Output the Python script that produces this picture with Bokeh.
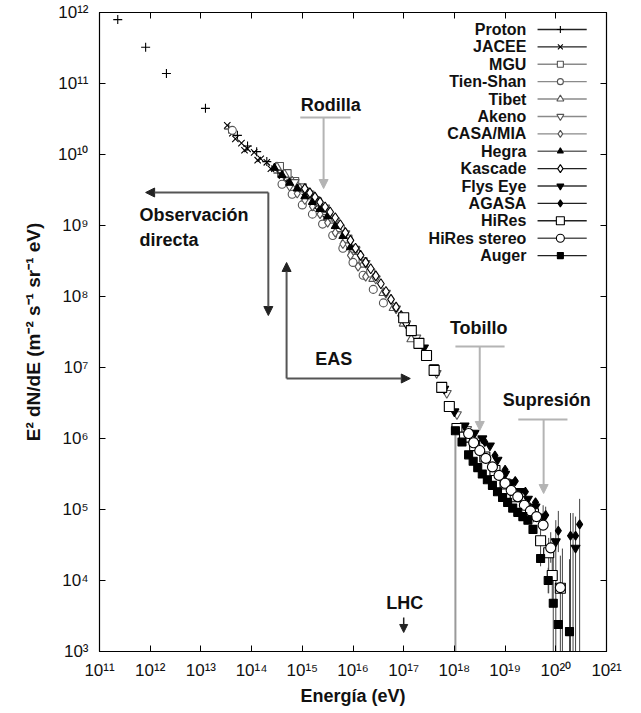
from bokeh.plotting import figure
from bokeh.models import FixedTicker, LogAxis, CustomJSTickFormatter, Label, Arrow, NormalHead
from bokeh.embed import file_html
from bokeh.resources import INLINE
from bokeh.core.properties import value

FONT = "Liberation Sans"

x_ticks = [1e11, 1e12, 1e13, 1e14, 1e15, 1e16, 1e17, 1e18, 1e19, 1e20, 1e21]
y_ticks = [1e3, 1e4, 1e5, 1e6, 1e7, 1e8, 1e9, 1e10, 1e11, 1e12]

# values: log10(E / eV) and log10(E^2 dN/dE)
proton_logE = [11.36, 11.91, 12.32, 13.09, 13.55, 13.72, 13.92, 14.10, 14.30, 14.52]
proton_logF = [11.90, 11.51, 11.14, 10.65, 10.36, 10.27, 10.12, 10.04, 9.90, 9.74]

jacee_logE = [13.52, 13.62, 13.68, 13.80, 13.86, 13.92, 14.05, 14.12, 14.18, 14.30, 14.38, 14.45,
              14.60, 14.68, 14.75, 14.90, 15.05, 15.25, 15.45]
jacee_logF = [10.41, 10.30, 10.22, 10.16, 10.06, 10.08, 10.03, 9.92, 9.94, 9.89, 9.80, 9.80,
              9.70, 9.62, 9.60, 9.52, 9.40, 9.25, 9.10]

mgu_logE = [14.55, 14.70, 14.85, 15.00, 15.15, 15.30, 15.45, 15.60, 15.75, 15.90, 16.05, 16.20, 16.35]
mgu_logF = [9.83, 9.73, 9.62, 9.53, 9.43, 9.33, 9.21, 9.09, 8.95, 8.81, 8.65, 8.49, 8.33]

tienshan_logE = [13.62, 14.6, 14.8, 15.0, 15.2, 15.4, 15.6, 15.8, 16.0, 16.2, 16.4, 16.6]
tienshan_logF = [10.34, 9.58, 9.44, 9.29, 9.16, 9.02, 8.86, 8.68, 8.48, 8.30, 8.10, 7.91]

tibet_logE = [14.50, 14.65, 14.80, 14.95, 15.10, 15.25, 15.40, 15.55, 15.70, 15.85, 16.00, 16.20,
              16.40, 16.60, 16.80, 17.00, 17.15]
tibet_logF = [9.82, 9.72, 9.62, 9.52, 9.42, 9.32, 9.22, 9.10, 8.95, 8.80, 8.66, 8.45,
              8.25, 8.05, 7.84, 7.62, 7.40]

akeno_logE = [14.85, 15.05, 15.25, 15.45, 15.65, 15.85, 16.05, 16.25, 16.45, 16.65, 16.85, 17.05,
              17.25, 17.45, 17.65, 17.85, 18.05, 18.25, 18.45]
akeno_logF = [9.61, 9.49, 9.37, 9.25, 9.07, 8.89, 8.66, 8.47, 8.25, 8.05, 7.83, 7.62,
              7.42, 7.18, 6.92, 6.64, 6.34, 6.13, 5.97]

casa_logE = [14.75, 14.90, 15.05, 15.20, 15.35, 15.50, 15.65, 15.80, 15.95, 16.10, 16.25]
casa_logF = [9.55, 9.45, 9.36, 9.27, 9.16, 9.04, 8.90, 8.74, 8.58, 8.42, 8.28]

hegra_logE = [14.45, 14.60, 14.75, 14.90, 15.05, 15.20, 15.35, 15.50, 15.65, 15.80, 15.95]
hegra_logF = [9.81, 9.71, 9.60, 9.52, 9.41, 9.33, 9.23, 9.13, 8.99, 8.85, 8.69]

kascade_logE = [15.05, 15.15, 15.25, 15.35, 15.45, 15.55, 15.65, 15.75, 15.85, 15.95, 16.05,
                16.15, 16.25, 16.35, 16.45, 16.55, 16.65, 16.75, 16.85, 16.95, 17.05]
kascade_logF = [9.52, 9.46, 9.40, 9.33, 9.26, 9.19, 9.11, 9.01, 8.90, 8.79, 8.68,
                8.58, 8.48, 8.39, 8.29, 8.18, 8.07, 7.96, 7.85, 7.73, 7.62]

flyseye_logE = [17.40, 17.60, 17.80, 18.00, 18.20, 18.40, 18.55, 18.70, 18.85, 19.00, 19.15,
                19.30, 19.45, 19.60, 19.75, 20.00, 20.39]
flyseye_logF = [7.28, 7.00, 6.70, 6.38, 6.18, 6.08, 6.00, 5.90, 5.70, 5.50, 5.38,
                5.26, 5.15, 5.04, 4.90, 4.55, 4.46]

agasa_logE = [18.60, 18.80, 19.00, 19.20, 19.40, 19.60, 19.80, 20.05, 20.29, 20.39, 20.47]
agasa_logF = [5.95, 5.76, 5.56, 5.40, 5.25, 5.10, 4.92, 4.70, 4.63, 4.63, 4.79]

hires_logE = [17.00, 17.15, 17.30, 17.45, 17.60, 17.75, 17.90, 18.05, 18.20, 18.40, 18.60,
              18.80, 19.00, 19.20, 19.40, 19.56, 19.70, 19.86, 19.93, 20.09]
hires_logF = [7.70, 7.52, 7.34, 7.17, 6.96, 6.72, 6.45, 6.14, 6.02, 5.90, 5.74,
              5.55, 5.36, 5.18, 5.02, 4.94, 4.56, 4.39, 4.07, 3.89]

hiresst_logE = [18.28, 18.38, 18.50, 18.62, 18.75, 18.88, 19.00, 19.12, 19.25, 19.38, 19.50,
                19.62, 19.75, 19.90, 20.09]
hiresst_logF = [6.07, 5.94, 5.83, 5.72, 5.60, 5.48, 5.37, 5.27, 5.18, 5.06, 4.98,
                4.90, 4.78, 4.46, 3.90]

auger_logE = [18.02, 18.15, 18.28, 18.37, 18.46, 18.55, 18.65, 18.75, 18.85, 18.95, 19.05,
              19.15, 19.25, 19.35, 19.45, 19.55, 19.70, 19.85, 19.95, 20.05, 20.27]
auger_logF = [6.11, 5.95, 5.77, 5.68, 5.59, 5.50, 5.42, 5.34, 5.25, 5.17, 5.10,
              5.02, 4.96, 4.90, 4.85, 4.72, 4.31, 4.00, 3.68, 3.38, 3.28]

# error bars of the highest-energy points (log10 E, low, high)
err_logE = [19.60, 19.75, 20.00, 20.39, 19.80, 20.05, 20.29, 20.47, 19.56, 19.70, 19.86, 19.93,
            20.09, 19.90, 20.13, 19.85, 19.95, 20.27, 20.34]
err_lo = [4.92, 4.72, 2.00, 2.00, 4.80, 4.40, 2.00, 2.00, 4.82, 4.20, 3.82, 3.70,
          2.00, 4.25, 2.00, 3.82, 2.00, 2.00, 2.00]
err_hi = [5.16, 5.06, 4.85, 4.90, 5.04, 4.98, 4.95, 5.15, 5.06, 4.72, 4.60, 4.40,
          4.35, 4.68, 4.45, 4.18, 4.60, 4.30, 4.95]
# long error bar of the first Auger point
long_err_logE = [18.02]
long_err_lo = [2.00]
long_err_hi = [6.11]

names = ["Proton", "JACEE", "MGU", "Tien-Shan", "Tibet", "Akeno", "CASA/MIA", "Hegra",
         "Kascade", "Flys Eye", "AGASA", "HiRes", "HiRes stereo", "Auger"]
series_logE = [proton_logE, jacee_logE, mgu_logE, tienshan_logE, tibet_logE, akeno_logE, casa_logE,
               hegra_logE, kascade_logE, flyseye_logE, agasa_logE, hires_logE, hiresst_logE, auger_logE]
series_logF = [proton_logF, jacee_logF, mgu_logF, tienshan_logF, tibet_logF, akeno_logF, casa_logF,
               hegra_logF, kascade_logF, flyseye_logF, agasa_logF, hires_logF, hiresst_logF, auger_logF]

# style of each series
markers = ["cross", "x", "square", "circle", "triangle", "inverted_triangle", "diamond", "triangle",
           "diamond", "inverted_triangle", "diamond", "square", "circle", "square"]
sizes = [9, 9, 8, 8, 9, 9, 9, 8, 10, 9, 9, 10, 10, 8]
edge = ["black", "black", "#555555", "#555555", "#555555", "#555555", "#555555", "black",
        "black", "black", "black", "black", "black", "black"]
fill = ["black", "black", "white", "white", "white", "white", "white", "black",
        "white", "black", "black", "white", "white", "black"]
leg_line = ["#222222", "#222222", "#8a8a8a", "#8a8a8a", "#8a8a8a", "#8a8a8a", "#8a8a8a", "#666666",
            "#222222", "#333333", "#222222", "#222222", "#555555", "#222222"]

W, H = 638, 710
p = figure(width=W, height=H, x_axis_type="log", y_axis_type="log",
           x_range=(1e11, 1e21), y_range=(1e3, 1e12),
           output_backend="svg", toolbar_location=None,
           min_border_left=99, min_border_right=W - 606, min_border_top=12, min_border_bottom=H - 651)
p.grid.visible = False
p.outline_line_color = "black"
p.outline_line_width = 1.2
p.background_fill_color = "white"

sup_code = """
const sup = {"0":"\\u2070","1":"\\u00b9","2":"\\u00b2","3":"\\u00b3","4":"\\u2074","5":"\\u2075",
             "6":"\\u2076","7":"\\u2077","8":"\\u2078","9":"\\u2079","-":"\\u207b"};
const e = Math.round(Math.log10(tick));
return "10" + String(e).split("").map(c => sup[c]).join("");
"""

for ax, ticks in ((p.xaxis[0], x_ticks), (p.yaxis[0], y_ticks)):
    ax.ticker = FixedTicker(ticks=ticks)
    ax.formatter = CustomJSTickFormatter(code=sup_code)
    ax.major_tick_in = 6
    ax.major_tick_out = 0
    ax.minor_tick_line_color = None
    ax.major_label_text_font = FONT
    ax.major_label_text_font_size = "17px"
    ax.major_label_text_color = "#111111"
    ax.axis_label_text_font = FONT
    ax.axis_label_text_font_style = "bold"
    ax.axis_label_text_font_size = "18px"
    ax.axis_label_text_color = "#111111"
    ax.axis_line_color = "black"
    ax.major_tick_line_color = "black"

p.xaxis[0].axis_label = "Energía (eV)"
p.xaxis[0].major_label_standoff = 9
p.xaxis[0].axis_label_standoff = 3
p.yaxis[0].axis_label = "E² dN/dE (m⁻² s⁻¹ sr⁻¹ eV)"
p.yaxis[0].axis_label_text_font_size = "19px"
p.yaxis[0].major_label_standoff = 11
p.yaxis[0].axis_label_standoff = 11

blank = CustomJSTickFormatter(code="return '';")
top_axis = LogAxis(ticker=FixedTicker(ticks=x_ticks), formatter=blank, major_tick_in=6, major_tick_out=0,
                   minor_tick_line_color=None, major_label_standoff=0, major_label_text_font_size="1px")
right_axis = LogAxis(ticker=FixedTicker(ticks=y_ticks), formatter=blank, major_tick_in=6, major_tick_out=0,
                     minor_tick_line_color=None, major_label_standoff=0, major_label_text_font_size="1px")
p.add_layout(top_axis, "above")
p.add_layout(right_axis, "right")

# error bars
p.segment(x0=[10 ** v for v in long_err_logE], x1=[10 ** v for v in long_err_logE],
          y0=[10 ** v for v in long_err_lo], y1=[10 ** v for v in long_err_hi],
          line_color="#9a9a9a", line_width=2)
p.segment(x0=[10 ** v for v in err_logE], x1=[10 ** v for v in err_logE],
          y0=[10 ** v for v in err_lo], y1=[10 ** v for v in err_hi],
          line_color="#444444", line_width=1)

# data points
for i in range(len(names)):
    p.scatter(x=[10 ** v for v in series_logE[i]], y=[10 ** v for v in series_logF[i]],
              marker=markers[i], size=sizes[i], line_color=edge[i], fill_color=fill[i],
              line_width=1.1)

# legend drawn gnuplot-style: text right-aligned, sample to its right
leg_text_x = 10 ** 19.42
leg_line_x0 = 10 ** 19.64
leg_line_x1 = 10 ** 20.61
leg_mark_x = 10 ** 20.09
leg_top = 11.761
leg_step = 0.245
leg_y = [10 ** (leg_top - i * leg_step) for i in range(len(names))]
p.segment(x0=[leg_line_x0] * len(names), x1=[leg_line_x1] * len(names), y0=leg_y, y1=leg_y,
          line_color=leg_line, line_width=1.4)
for i in range(len(names)):
    p.scatter(x=[leg_mark_x], y=[leg_y[i]], marker=markers[i], size=sizes[i] - 2,
              line_color=edge[i], fill_color=fill[i], line_width=1.1)
p.text(x=[leg_text_x] * len(names), y=leg_y, text=names, text_align="right", text_baseline="middle",
       text_font=value(FONT), text_font_style="bold", text_font_size="16px", text_color="#111111")

# annotations
def lab(lx, ly, txt, align="center"):
    p.add_layout(Label(x=10 ** lx, y=10 ** ly, text=txt, text_align=align, text_baseline="middle",
                       text_font=FONT, text_font_style="bold", text_font_size="18px",
                       text_color="#111111"))

def arrow(lx0, ly0, lx1, ly1, color, head_color, width=2, size=9):
    p.add_layout(Arrow(x_start=10 ** lx0, y_start=10 ** ly0, x_end=10 ** lx1, y_end=10 ** ly1,
                       line_color=color, line_width=width,
                       end=NormalHead(size=size, fill_color=head_color, line_color=head_color)))

GRAY = "#b4b4b4"
# Rodilla
lab(15.56, 10.704, "Rodilla")
p.segment(x0=[10 ** 14.96], x1=[10 ** 15.95], y0=[10 ** 10.521], y1=[10 ** 10.521], line_color=GRAY, line_width=2)
arrow(15.42, 10.521, 15.42, 9.521, GRAY, GRAY)
# Tobillo
lab(18.48, 7.563, "Tobillo")
p.segment(x0=[10 ** 18.02], x1=[10 ** 18.99], y0=[10 ** 7.296], y1=[10 ** 7.296], line_color=GRAY, line_width=2)
arrow(18.50, 7.296, 18.50, 6.113, GRAY, GRAY)
# Supresión
lab(19.82, 6.549, "Supresión")
p.segment(x0=[10 ** 19.26], x1=[10 ** 20.23], y0=[10 ** 6.268], y1=[10 ** 6.268], line_color=GRAY, line_width=2)
arrow(19.76, 6.268, 19.76, 5.225, GRAY, GRAY)
# Observación directa
lab(11.79, 9.141, "Observación", "left")
lab(11.79, 8.789, "directa", "left")
arrow(14.33, 9.465, 11.91, 9.465, "#555555", "#222222")
arrow(14.33, 9.465, 14.33, 7.732, "#555555", "#222222")
# EAS
lab(15.62, 7.113, "EAS")
arrow(14.69, 6.845, 14.69, 8.479, "#555555", "#222222")
arrow(14.69, 6.845, 17.13, 6.845, "#555555", "#222222")
# LHC
lab(17.02, 3.69, "LHC")
arrow(17.0, 3.479, 17.0, 3.268, "#222222", "#222222", width=1.5, size=8)

open("out.html", "w").write(file_html(p, INLINE))
